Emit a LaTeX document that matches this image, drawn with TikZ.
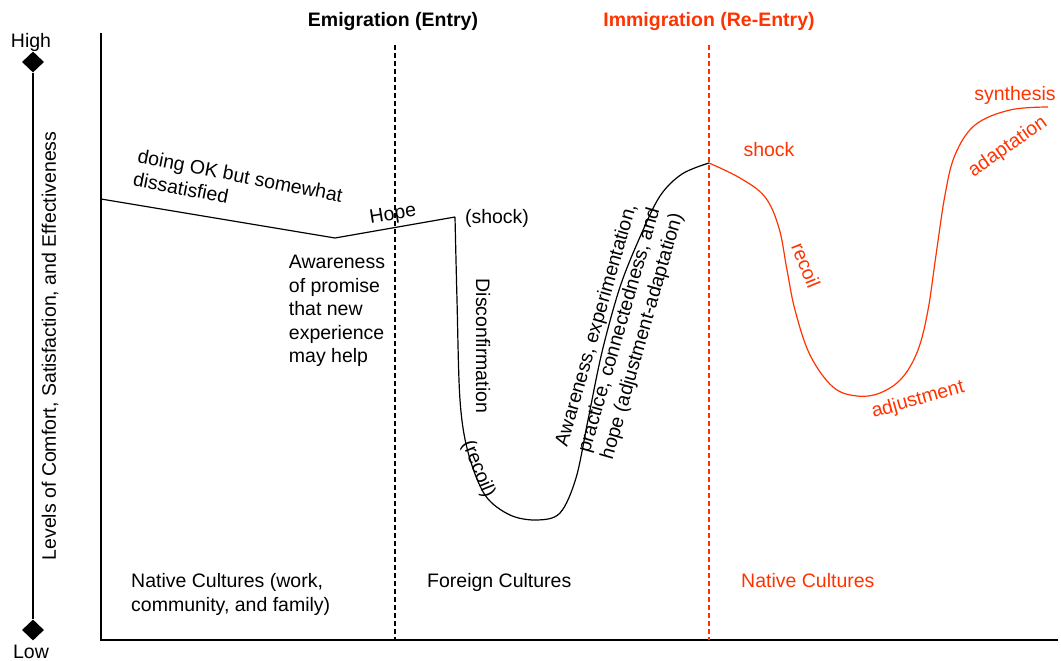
\documentclass[tikz,border=0pt]{standalone}
\usepackage{fontspec}
\setmainfont{Liberation Sans}
\usetikzlibrary{shapes.geometric}
\definecolor{reentry}{RGB}{255,51,0}
\begin{document}
\begin{tikzpicture}[x=1pt,y=-1pt,
  lbl/.style={font=\fontsize{19.5}{23.5}\selectfont, inner sep=0pt, align=left},
  ttl/.style={font=\fontsize{19.5}{23.5}\selectfont\bfseries, inner sep=0pt},
  rlbl/.style={lbl, text=reentry},
  axisline/.style={line width=1.3pt},
  divider/.style={line width=1.2pt, dash pattern=on 5pt off 3pt},
  curve/.style={line width=1.2pt, line join=round},
  marker/.style={diamond, fill=black, inner sep=0pt, minimum width=22pt, minimum height=21pt}]
\useasboundingbox (0,0) rectangle (1061,661);

% axes
\coordinate (ytop) at (101,33);
\coordinate (origin) at (101,640);
\coordinate (xend) at (1058,640);
\draw[axisline] (ytop) -- (origin) -- (xend);

% comfort scale
\node[marker] (hi) at (33,62) {};
\node[marker] (lo) at (33,630) {};
\draw[line width=1.2pt] (hi) -- (lo);
\node[lbl] (high) at (31,42) {High};
\node[lbl] (low) at (31,652) {Low};
\node[lbl, rotate=90] (ylabel) at (50,346) {Levels of Comfort, Satisfaction, and Effectiveness};

% phase dividers
\coordinate (emtop) at (395,45);
\coordinate (embot) at (395,640);
\coordinate (imtop) at (709,45);
\coordinate (imbot) at (709,640);
\draw[divider] (emtop) -- (embot);
\draw[divider, reentry] (imtop) -- (imbot);
\node[ttl] (emig) at (393,22) {Emigration (Entry)};
\node[ttl, text=reentry] (immig) at (709,22) {Immigration (Re-Entry)};

% first cycle
\coordinate (start) at (101,199);
\coordinate (dip) at (335,238);
\coordinate (shockpt) at (455,217);
\coordinate (peak) at (709,163);
\draw[curve] (start) -- (dip) -- (shockpt);
\draw[curve] plot[smooth, tension=0.55] coordinates {(455,217) (457,300) (460,400) (468,452) (485,495) (510,515) (537,520) (560,513) (576,478) (588,420) (602,352) (620,287) (640,237) (660,196) (682,174) (709,163)};

% re-entry cycle
\draw[curve, reentry] plot[smooth, tension=0.6] coordinates {(709,163) (740,178) (765,197) (779,228) (787,270) (795,310) (810,355) (833,387) (857,396) (880,393) (902,378) (918,350) (928,310) (936,255) (945,195) (955,155) (975,125) (1010,110) (1048,107)};

% labels along the first cycle
\node[lbl, rotate=-11] (ok) at (238,187) {doing OK but somewhat\\dissatisfied};
\node[lbl, rotate=9] (hope) at (393,215) {Hope};
\node[lbl] (shock1) at (497,218) {(shock)};
\node[lbl] (promise) at (337,311) {Awareness\\of promise\\that new\\experience\\may help};
\node[lbl, rotate=-90] (disconf) at (483,346) {Disconfirmation};
\node[lbl, rotate=-68] (recoil1) at (478,469) {(recoil)};
\node[lbl, rotate=74] (aware) at (620,330) {Awareness, experimentation,\\practice, connectedness, and\\hope (adjustment-adaptation)};

% labels along the re-entry cycle
\node[rlbl] (shock2) at (769,150) {shock};
\node[rlbl, rotate=-68] (recoil2) at (806,265) {recoil};
\node[rlbl, rotate=16] (adjust) at (918,400) {adjustment};
\node[rlbl, rotate=35] (adapt) at (1008,147) {adaptation};
\node[rlbl] (synth) at (1015,95) {synthesis};

% culture zones
\node[lbl, anchor=west, font=\fontsize{19.5}{24}\selectfont] (native1) at (131,594) {Native Cultures (work,\\community, and family)};
\node[lbl, anchor=base west] (foreign) at (427,587) {Foreign Cultures};
\node[rlbl, anchor=base west] (native2) at (741,587) {Native Cultures};
\end{tikzpicture}
\end{document}
